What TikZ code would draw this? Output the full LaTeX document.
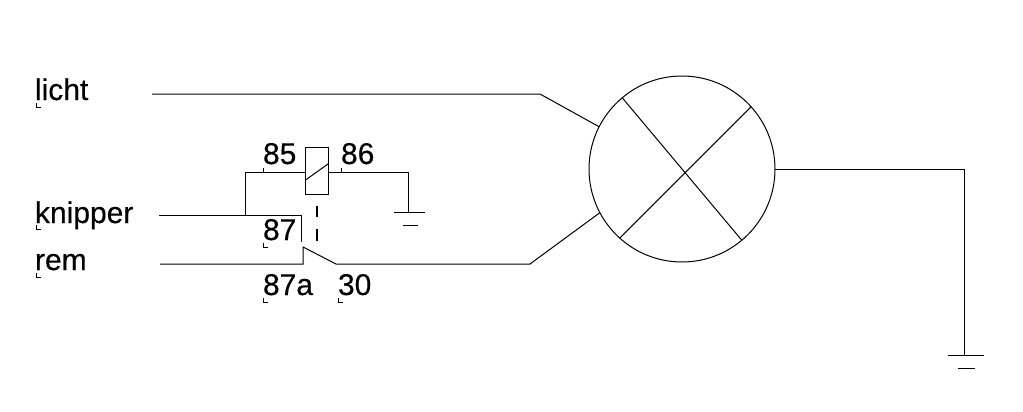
\documentclass[tikz,border=0pt]{standalone}
\usepackage{fontspec}
\setmainfont{Liberation Sans}
\newfontfamily\lblfont[FakeBold=0.3]{Liberation Sans}
\tikzset{
  wire/.style={line width=1pt,black,line join=miter},
  relaydash/.style={line width=2pt,black},
  lbl/.style={anchor=base west,inner sep=0pt,outer sep=0pt,font=\lblfont\fontsize{30}{30}\selectfont,text=black},
  lamp/.style={circle,draw,line width=1pt,minimum size=186pt,inner sep=0pt,outer sep=0pt},
  coil/.style={rectangle,draw,line width=1pt,minimum width=22.5pt,minimum height=47pt,inner sep=0pt,outer sep=0pt},
  tinymark/.style={line width=1pt,black}
}
\begin{document}
\begin{tikzpicture}[x=1pt,y=-1pt]
\useasboundingbox (0,0) rectangle (1023,412);
% labels
\node[lbl] (licht) at (35,100) {licht};
\node[lbl] (knipper) at (35,223) {knipper};
\node[lbl] (rem) at (35,270) {rem};
\node[lbl] (n85) at (263,164) {85};
\node[lbl] (n86) at (341,164) {86};
\node[lbl] (n87) at (263,240) {87};
\node[lbl] (n87a) at (263,295) {87a};
\node[lbl] (n30) at (338,295) {30};
% text origin marks
\draw[tinymark] (36,103) |- (40.5,107);
\draw[tinymark] (36,225) |- (40.5,229);
\draw[tinymark] (36,273) |- (40.5,277);
\draw[tinymark] (263.5,243) |- (268,247);
\draw[tinymark] (263.5,298) |- (268,302);
\draw[tinymark] (338.5,298) |- (343,302);
% main shapes
\node[lamp] (lampc) at (682,169) {};
\node[coil] (relay) at (316.75,170.5) {};
% coordinates
\coordinate (lichtS) at (152,94);
\coordinate (lichtB) at (540,94);
\coordinate (knS) at (159,215);
\coordinate (knJ) at (245,215);
\coordinate (knC) at (301.5,215);
\coordinate (cNO) at (301.5,241.5);
\coordinate (remS) at (160,264);
\coordinate (remC) at (303,264);
\coordinate (cNC) at (303,247);
\coordinate (cC) at (336,264);
\coordinate (cB) at (530,264);
\coordinate (coilL) at (305.5,172.5);
\coordinate (coilR) at (328,172.5);
\coordinate (gndA) at (408,212);
\coordinate (gndB) at (964,355);
\coordinate (outB) at (964,169);
% wires
\draw[wire] (lichtS) -- (lichtB) -- (lampc.153);
\draw[wire] (knS) -- (knC) -- (cNO);
\draw[wire] (knJ) |- (coilL);
\draw[wire] (coilR) -| (gndA);
\draw[wire] (remS) -- (remC) -- (cNC) -- (cC) -- (cB) -- (lampc.208.5);
\draw[wire] (lampc.east) -- (outB) -- (gndB);
% lamp cross
\draw[wire] (lampc.130) -- (lampc.-50);
\draw[wire] (lampc.42.4) -- (lampc.228);
% coil diagonal
\draw[wire] (305.5,180) -- (328,164);
% coil ticks
\draw[tinymark] (263.5,168) -- (263.5,172.5);
\draw[tinymark] (341.5,168) -- (341.5,172.5);
% actuator
\draw[relaydash] (317,206) -- (317,217);
\draw[relaydash] (317,229) -- (317,241);
% grounds
\draw[wire] (394,212) -- (425,212);
\draw[wire] (403,225) -- (418,225);
\draw[wire] (948,355) -- (984,355);
\draw[wire] (958,368) -- (975,368);
\end{tikzpicture}
\end{document}
